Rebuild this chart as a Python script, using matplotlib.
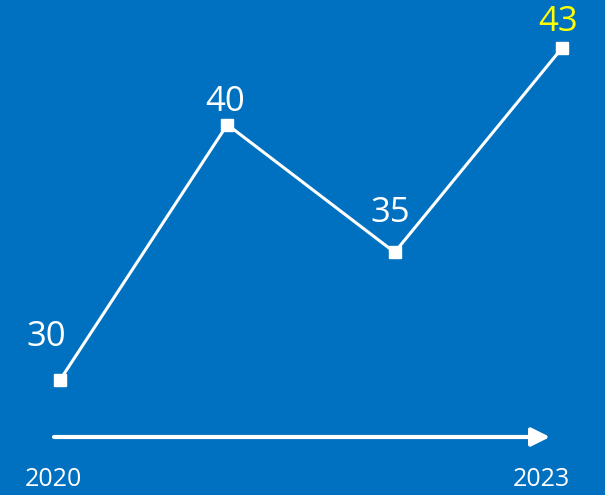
import matplotlib.pyplot as plt

# chart values
years = ["2020", "2021", "2022", "2023"]
values = [30, 40, 35, 43]
label_colors = ["white", "white", "white", "#FFFF00"]
# label offsets in pixels (dx, dy of the text centre from the point)
label_offsets = [(-14, 43), (-2, 23), (-4, 39), (-4, 26)]

bg = "#0070C0"
W, H = 605, 495

fig = plt.figure(figsize=(W / 100, H / 100), dpi=100)
fig.patch.set_facecolor(bg)
ax = fig.add_axes([0, 0, 1, 1])
ax.set_facecolor(bg)

x = list(range(len(values)))
ax.plot(x, values, color="white", lw=2.2, marker="s", markersize=8,
        markerfacecolor="white", markeredgecolor="white", solid_joinstyle="miter")

# map data so that first point sits at (60, 380) px and last at (562, 48) px
px_per_x = (562 - 60) / 3
px_per_y = (380 - 48) / (43 - 30)
ax.set_xlim(-60 / px_per_x, 3 + (W - 562) / px_per_x)
ax.set_ylim(30 - (H - 380) / px_per_y, 43 + 48 / px_per_y)
ax.axis("off")

for xi, v, c, (dx, dy) in zip(x, values, label_colors, label_offsets):
    ax.annotate(str(v), (xi, v), xytext=(dx * 0.72, dy * 0.72),
                textcoords="offset points", ha="center", va="center",
                color=c, fontsize=25, family=["Open Sans", "DejaVu Sans"])

# time arrow along the bottom
ax.annotate("", xy=(550 / W, 1 - 437 / H), xytext=(54 / W, 1 - 437 / H),
            xycoords="figure fraction", textcoords="figure fraction",
            arrowprops=dict(arrowstyle="-|>,head_length=1.1,head_width=0.55",
                            color="white", lw=3, shrinkA=0, shrinkB=0))

fig.text(53 / W, 1 - 479 / H, years[0], color="white", fontsize=18,
         ha="center", va="center", family=["Open Sans", "DejaVu Sans"])
fig.text(541 / W, 1 - 479 / H, years[-1], color="white", fontsize=18,
         ha="center", va="center", family=["Open Sans", "DejaVu Sans"])

fig.savefig("out.png", dpi=100, facecolor=bg)
